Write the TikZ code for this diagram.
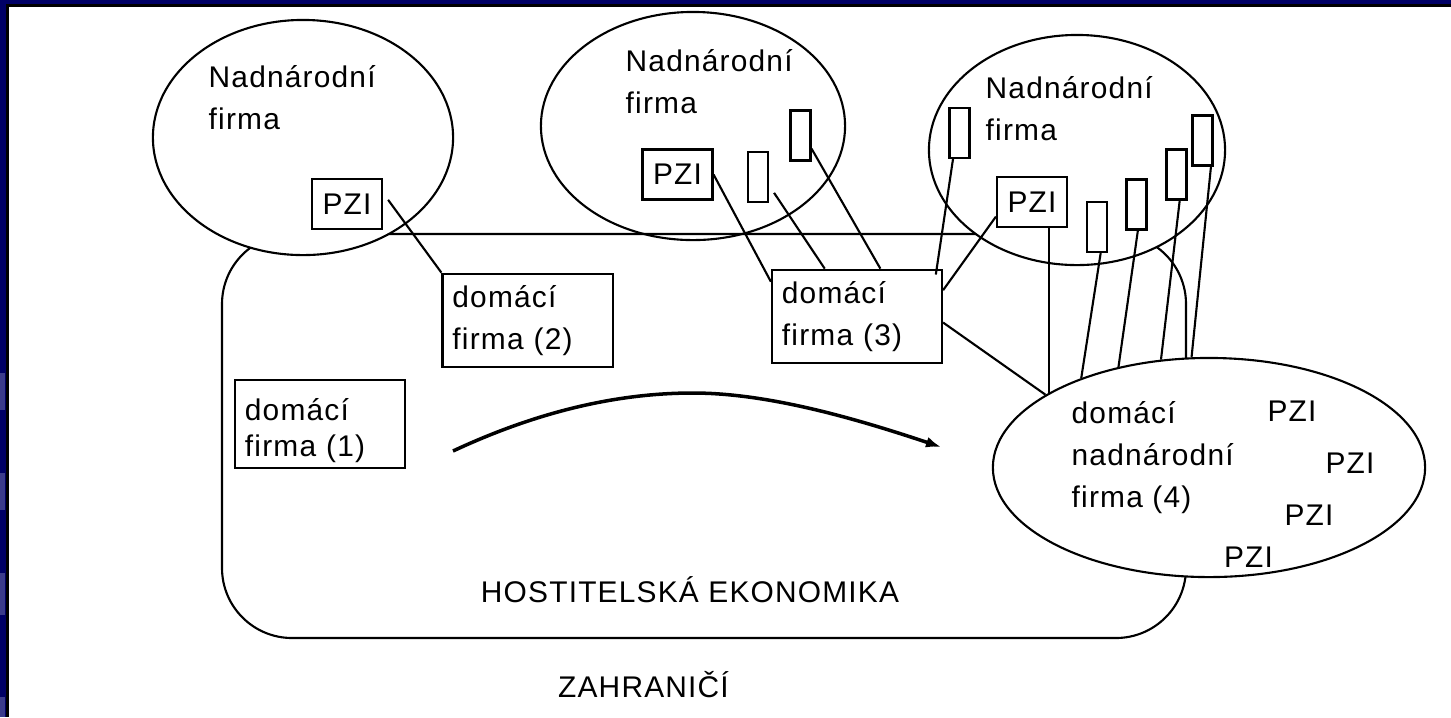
\documentclass[tikz,border=0pt]{standalone}
\usepackage{fontspec}
\setmainfont{Liberation Sans}[LetterSpace=4]
\usepackage{tikz}
\usetikzlibrary{shapes.geometric,arrows.meta}

\definecolor{frameblue}{RGB}{0,0,102}
\definecolor{patchblue}{RGB}{60,60,140}

\tikzset{
  firm/.style={draw, ellipse, fill=white, line width=0.6pt, inner sep=0},
  firmbox/.style={draw, line width=0.6pt, align=left, text width=1.5cm, inner xsep=0.1cm, minimum height=0.86cm},
  pzibox/.style={draw, line width=0.6pt, minimum width=0.7cm, minimum height=0.5cm, inner sep=0},
  slot/.style={draw, line width=0.6pt, minimum width=0.2cm, minimum height=0.5cm, inner sep=0},
  nametext/.style={align=left, anchor=north west, inner sep=0},
  wire/.style={line width=0.6pt},
}

\begin{document}
\begin{tikzpicture}[x=0.01cm, y=-0.01cm, font=\fontsize{8.5}{11.95}\selectfont]
\useasboundingbox (0,0) rectangle (1451,717);
\fill[white] (0,0) rectangle (1451,717);

% slide frame
\fill[frameblue] (0,0) rectangle (1451,4);
\fill[frameblue] (0,0) rectangle (6,717);
\fill[patchblue] (0,373) rectangle (5,410);
\fill[patchblue] (0,473) rectangle (5,510);
\fill[patchblue] (0,573) rectangle (5,615);
\fill[patchblue] (0,697) rectangle (5,717);
\fill[black] (6,4) rectangle (1451,7);
\fill[black] (6,4) rectangle (9,717);

% firms abroad and the host economy
\node[firm, minimum width=3.04cm, minimum height=2.28cm] (nf2) at (693,126) {};
\draw[line width=0.6pt, rounded corners=0.7cm] (222,234) rectangle (1186,638);
\node[firm, minimum width=3cm, minimum height=2.35cm] (nf1) at (303,137.5) {};
\node[firm, minimum width=2.96cm, minimum height=2.3cm] (nf3) at (1077,150) {};
\node[firm, minimum width=4.32cm, minimum height=2.19cm] (dnf) at (1209,467.5) {};

\node[nametext] (t1) at (208,65) {Nadnárodní\\firma};
\node[nametext] (t2) at (625,49) {Nadnárodní\\firma};
\node[nametext] (t3) at (985,76) {Nadnárodní\\firma};
\node[nametext] (t4) at (1071,401) {domácí\\nadnárodní\\firma (4)};

% PZI
\node[pzibox] (pzi1) at (347,204) {PZI};
\node[pzibox] (pzi2) at (677.5,174.5) {PZI};
\node[pzibox] (pzi3) at (1032,202) {PZI};
\node[slot] (s2a) at (758,177) {};
\node[slot] (s2b) at (800.5,135.5) {};
\node[slot] (s3a) at (959.5,133) {};
\node[slot] (s3b) at (1097,227) {};
\node[slot] (s3c) at (1136.5,204.5) {};
\node[slot] (s3d) at (1176.5,174.5) {};
\node[slot] (s3e) at (1202.5,140.5) {};

\node (q1) at (1292,411) {PZI};
\node (q2) at (1350,463) {PZI};
\node (q3) at (1309,515.5) {PZI};
\node (q4) at (1248.5,557.5) {PZI};

% domestic firms
\node[firmbox, minimum height=0.88cm, text depth=0.3cm] (df1) at (320,424) {domácí\\[-0.32ex]firma (1)};
\node[firmbox] (df2) at (527.5,320.5) {domácí\\firma (2)};
\node[firmbox] (df3) at (857,316.5) {domácí\\firma (3)};

\node[anchor=base] (host) at (690,602) {HOSTITELSKÁ EKONOMIKA};
\node[anchor=base] (abroad) at (643.5,697) {ZAHRANIČÍ};

% links
\draw[wire, shorten <=0.085cm] (pzi1.17) -- (df2.north west);
\draw[wire] (pzi2.east) -- (df3.158);
\draw[wire, shorten <=0.09cm] (s2a.-37) -- (df3.124);
\draw[wire] (s2b.-50) -- (df3.64);
\draw[wire, shorten >=-0.06cm] (s3a.-104) -- (df3.31.5);
\draw[wire] (pzi3.202) -- (df3.17);
\draw[wire] (df3.-4) -- (dnf.156.5);
\draw[wire] (dnf.155.8 |- pzi3.south) -- (dnf.155.8);
\draw[wire] (s3b.-82) -- (dnf.145.4);
\draw[wire] (s3c.-87) -- (dnf.132.4);
\draw[wire] (s3d.-83) -- (dnf.114.2);
\draw[wire] (s3e.-72) -- (dnf.99.9);

% growth path
\coordinate (go) at (453,451);
\coordinate (grown) at (941,447);
\draw[line width=1pt, -{Latex[length=0.15cm, width=0.11cm]}] (go) .. controls (545,408) and (625,393) .. (693,393) .. controls (770,393) and (860,420) .. (grown);

\end{tikzpicture}
\end{document}
